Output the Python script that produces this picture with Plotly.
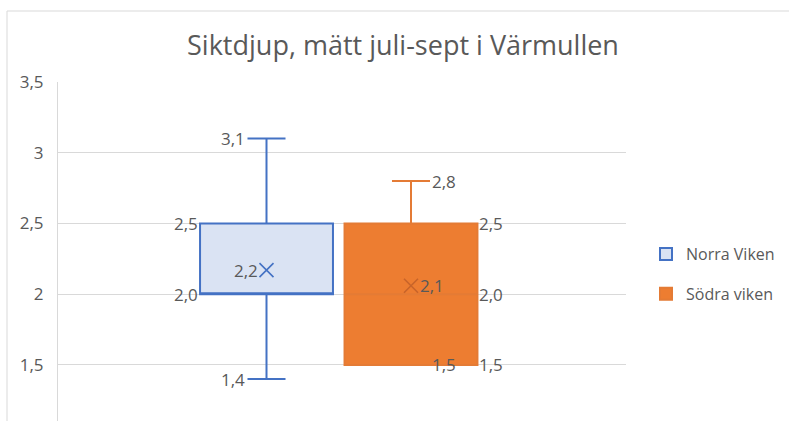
import plotly.graph_objects as go

# ---- data ----
series_names = ["Norra Viken", "Södra viken"]
q1_vals = [2.0, 1.5]
median_vals = [2.0, 2.0]
q3_vals = [2.5, 2.5]
low_vals = [1.4, 1.5]
high_vals = [3.1, 2.8]
mean_vals = [2.17, 2.06]
y_tick_vals = [1.5, 2.0, 2.5, 3.0, 3.5]
y_tick_text = ["1,5", "2", "2,5", "3", "3,5"]
title_text = "Siktdjup, mätt juli-sept i Värmullen"

fill_colors = ["#DAE3F3", "#ED7D31"]
line_colors = ["#4472C4", "#E47B35"]
mean_colors = ["#4472C4", "#C8642A"]
TXT = "#595959"
FONT = "Open Sans"

BOX_W = 0.92
WHISK = 0.286


def fmt(v):
    return f"{v:.1f}".replace(".", ",")


fig = go.Figure()
for i, name in enumerate(series_names):
    fig.add_trace(go.Box(
        x=[i], q1=[q1_vals[i]], median=[median_vals[i]], q3=[q3_vals[i]],
        lowerfence=[low_vals[i]], upperfence=[high_vals[i]],
        name=name, width=BOX_W, whiskerwidth=WHISK,
        fillcolor=fill_colors[i], line=dict(color=line_colors[i], width=2),
        boxpoints=False, legendgroup=name, hoverinfo="skip",
    ))

fig.add_trace(go.Scatter(
    x=[0, 1], y=mean_vals, mode="markers", showlegend=False,
    marker=dict(symbol="x-thin", size=14, line=dict(width=1.6, color=mean_colors)),
    hoverinfo="skip",
))

ann = []
fs = 17
half = BOX_W / 2
cap = WHISK * half
for i in range(len(series_names)):
    if i == 0:
        bx, bxa = i - half, "right"
        wx, wxa = i - cap, "right"
        mx, mxa, mxs = i, "right", -7
    else:
        bx, bxa = i + half, "left"
        wx, wxa = i + cap, "left"
        mx, mxa, mxs = i, "left", 7
    seen = set()
    for v in (q1_vals[i], median_vals[i], q3_vals[i]):
        if v in seen:
            continue
        seen.add(v)
        ann.append(dict(x=bx, y=v, text=fmt(v), xanchor=bxa, yanchor="middle",
                        showarrow=False, font=dict(size=fs, color=TXT, family=FONT)))
    for v in (low_vals[i], high_vals[i]):
        ann.append(dict(x=wx, y=v, text=fmt(v), xanchor=wxa, yanchor="middle",
                        showarrow=False, font=dict(size=fs, color=TXT, family=FONT)))
    ann.append(dict(x=mx, y=mean_vals[i], text=fmt(mean_vals[i]), xanchor=mxa,
                    xshift=mxs, yanchor="middle", showarrow=False,
                    font=dict(size=fs, color=TXT, family=FONT)))

L, R, T, B = 58, 163, 82, 0
W, H = 789, 421
pw, ph = W - L - R, H - T - B

fig.update_layout(
    width=W, height=H,
    margin=dict(l=L, r=R, t=T, b=B, pad=0, autoexpand=False),
    paper_bgcolor="white", plot_bgcolor="white",
    separators=", ",
    boxmode="overlay",
    font=dict(family=FONT, color=TXT, size=16),
    title=dict(text=title_text, x=403 / W, xanchor="center", y=1 - 46 / H,
               yanchor="middle", font=dict(size=27, color=TXT, family=FONT)),
    xaxis=dict(range=[-1.443, 2.488], showticklabels=False, showgrid=False,
               zeroline=False, showline=False, fixedrange=True),
    yaxis=dict(range=[1.104, 3.5], tickvals=y_tick_vals, ticktext=y_tick_text,
               showgrid=True, gridcolor="#D9D9D9", gridwidth=1, zeroline=False,
               showline=True, linecolor="#D9D9D9", linewidth=1,
               ticks="", ticklabelstandoff=10,
               tickfont=dict(size=17, color=TXT, family=FONT)),
    legend=dict(x=(646 - L) / pw, xanchor="left", y=(H - 237 - B) / ph,
                yanchor="top", font=dict(size=16, color=TXT, family=FONT),
                tracegroupgap=16, bgcolor="rgba(0,0,0,0)"),
    annotations=ann,
    shapes=[dict(type="rect", xref="paper", yref="paper",
                 x0=(7 - L) / pw, x1=(W + 10 - L) / pw,
                 y0=-0.2, y1=(H - 11 - B) / ph,
                 line=dict(color="#D9D9D9", width=1), fillcolor="rgba(0,0,0,0)",
                 layer="below")],
)

fig.write_html("out.html", config={"displayModeBar": False},
               post_script="document.body.style.margin='0px';document.body.style.overflow='hidden';")
